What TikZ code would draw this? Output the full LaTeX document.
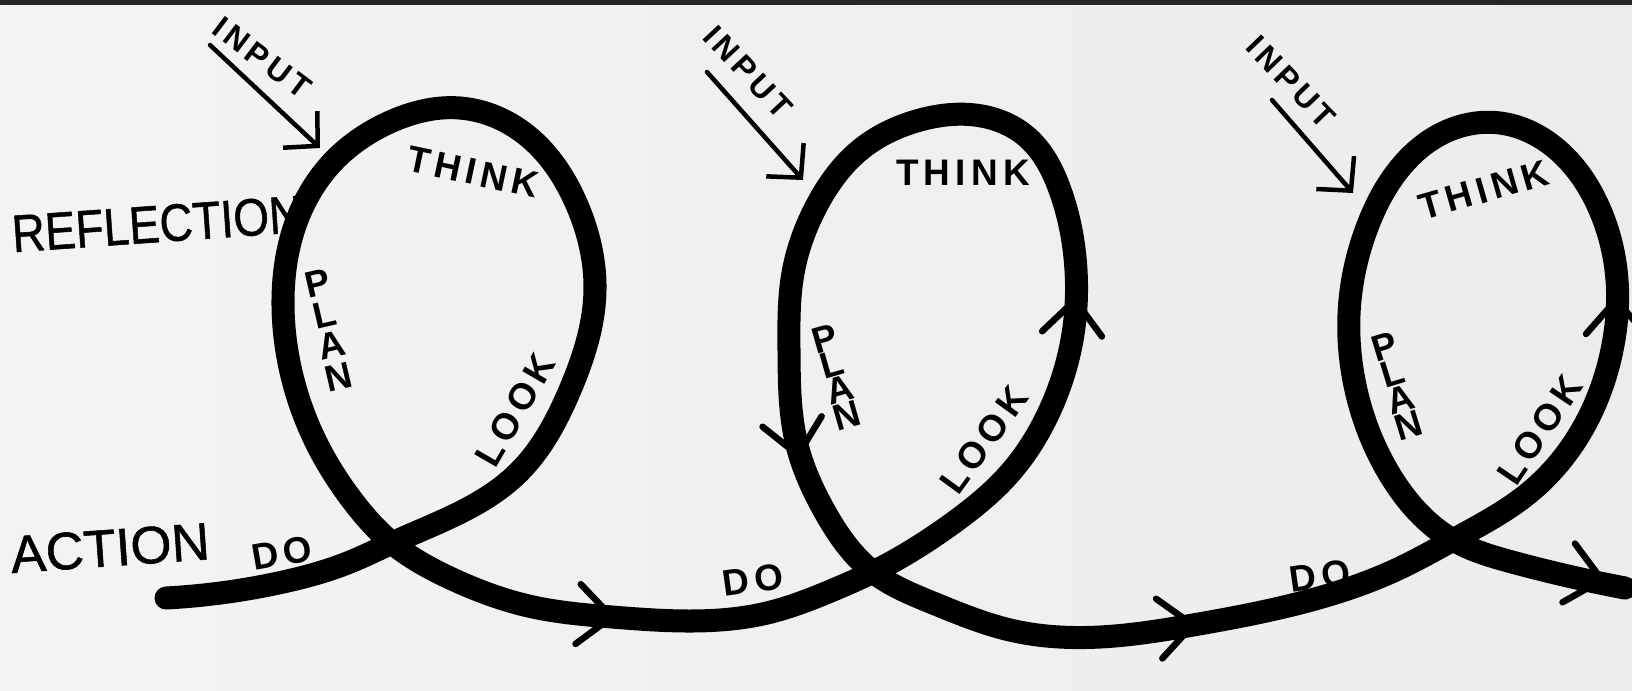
\documentclass[tikz,border=0pt]{standalone}
\usepackage{fontspec}
\setmainfont{Liberation Sans}
\newfontfamily\handfont[LetterSpace=14]{Liberation Sans Bold}
\newfontfamily\sidefont[FakeBold=1]{Liberation Sans}
\usetikzlibrary{arrows.meta,hobby}

\tikzset{
  trail/.style={line width=0.23cm, line cap=round, line join=round},
  barbline/.style={line width=0.065cm, line cap=round, line join=round},
  barb/.pic={\draw[barbline] (-34,30) -- (0,0) -- (-34,-30);},
  inarrow/.style={line width=0.045cm, line cap=round,
    -{Straight Barb[length=0.24cm,width=0.5cm]}},
  hand/.style={inner sep=0pt, font=\handfont\fontsize{10.5}{10.5}\selectfont},
  inlabel/.style={inner sep=0pt, font=\handfont\fontsize{9}{9}\selectfont},
  side/.style={inner sep=0pt, font=\sidefont\fontsize{15}{15}\selectfont},
  stackcol/.style={inner sep=0pt, align=center, font=\handfont\fontsize{10.5}{#1}\selectfont},
}

\begin{document}
\begin{tikzpicture}[x=0.01cm, y=-0.01cm]
  \fill[left color=gray!9, right color=gray!15] (0,0) rectangle (1632,690);
  \fill[black!85] (0,0) rectangle (1632,5);
  \useasboundingbox (0,0) rectangle (1632,690);

  \draw[trail, use Hobby shortcut] (166,598) .. (283,582) .. (350,562)
    .. (392,543) .. (518,473) .. (570,390)
    .. (595,290) .. (577,205) .. (530,138) .. (460,108) .. (390,122)
    .. (330,165) .. (292,235) .. (283,300) .. (293,380) .. (320,450)
    .. (352,500) .. (392,543) .. (450,578) .. (533,607) .. (612,617)
    .. (690,621) .. (767,613) .. (833,590) .. (873,572) .. (953,523)
    .. (1010,473) .. (1050,410) .. (1072,340) .. (1076,270) .. (1060,190)
    .. (1027,137) .. (975,115) .. (920,120) .. (860,150) .. (817,205)
    .. (793,273) .. (789,350) .. (797,445) .. (825,512)
    .. (873,572) .. (933,603) .. (1010,630) .. (1100,637) .. (1193,625)
    .. (1300,603) .. (1400,568) .. (1453,540) .. (1530,492)
    .. (1590,415) .. (1612,350) .. (1617,280) .. (1600,210) .. (1560,152)
    .. (1500,123) .. (1445,132) .. (1400,168) .. (1368,225) .. (1350,300)
    .. (1356,390) .. (1390,475) .. (1453,540) .. (1512,562)
    .. (1625,588);

  \pic[rotate=-5] at (612,617) {barb};
  \pic[rotate=-80] at (798,455) {barb};
  \pic[rotate=85] at (1075,300) {barb};
  \pic[rotate=6] at (1193,625) {barb};
  \pic[rotate=90] at (1616,300) {barb};
  \pic[rotate=-12] at (1602,580) {barb};

  \node[side, rotate=4] (refl) at (157,224) {\scalebox{0.87}[1]{REFLECTION}};
  \node[side, rotate=4] (act) at (110,548) {ACTION};

  \node[inlabel, rotate=-37] (in1) at (262,58) {INPUT};
  \node[inlabel, rotate=-47] (in2) at (748,72) {INPUT};
  \node[inlabel, rotate=-46] (in3) at (1291,82) {INPUT};
  \coordinate (in1s) at (210,45);
  \coordinate (in1e) at (320,148);
  \coordinate (in2s) at (707,72);
  \coordinate (in2e) at (803,180);
  \coordinate (in3s) at (1272,100);
  \coordinate (in3e) at (1353,193);
  \draw[inarrow] (in1s) -- (in1e);
  \draw[inarrow] (in2s) -- (in2e);
  \draw[inarrow] (in3s) -- (in3e);

  \node[hand, rotate=-12] (think1) at (473,172) {THINK};
  \node[hand] (think2) at (963,173) {THINK};
  \node[hand, rotate=16] (think3) at (1484,190) {THINK};

  \node[stackcol=9.1pt, rotate=13] (plan1) at (328,330) {P\\L\\A\\N};
  \node[stackcol=7.6pt, rotate=16] (plan2) at (836,377) {P\\L\\A\\N};
  \node[stackcol=7.8pt, rotate=17] (plan3) at (1397,386) {P\\L\\A\\N};

  \node[hand, rotate=60] (look1) at (515,410) {LOOK};
  \node[hand, rotate=54] (look2) at (984,440) {LOOK};
  \node[hand, rotate=56] (look3) at (1540,430) {LOOK};

  \node[hand, rotate=10] (do1) at (282,553) {DO};
  \node[hand, rotate=8] (do2) at (753,580) {DO};
  \node[hand, rotate=8] (do3) at (1320,576) {DO};
\end{tikzpicture}
\end{document}
